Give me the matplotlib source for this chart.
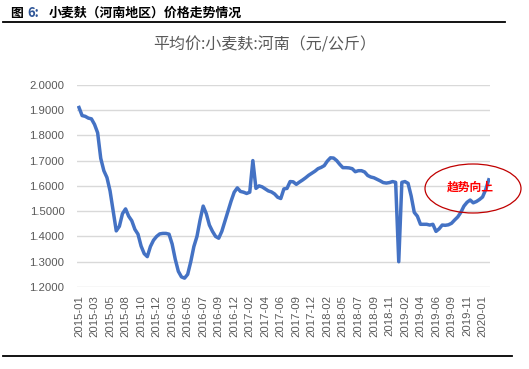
import matplotlib.pyplot as plt
from matplotlib.patches import Ellipse
from matplotlib.lines import Line2D

plt.rcParams['font.family'] = ['Liberation Sans', 'Noto Sans CJK SC', 'DejaVu Sans']

# weekly price (yuan/kg)
prices = [
    1.910, 1.878, 1.875, 1.868, 1.865, 1.843, 1.810, 1.709, 1.660, 1.633,
    1.580, 1.500, 1.422, 1.440, 1.490, 1.509, 1.480, 1.462, 1.428, 1.409,
    1.362, 1.332, 1.320, 1.360, 1.385, 1.400, 1.410, 1.412, 1.412, 1.409,
    1.370, 1.310, 1.262, 1.240, 1.235, 1.250, 1.300, 1.360, 1.400, 1.465,
    1.520, 1.490, 1.445, 1.420, 1.400, 1.393, 1.420, 1.460, 1.500, 1.540,
    1.575, 1.592, 1.578, 1.575, 1.570, 1.575, 1.700, 1.590, 1.600, 1.596,
    1.588, 1.580, 1.576, 1.568, 1.555, 1.550, 1.588, 1.590, 1.617, 1.616,
    1.606, 1.615, 1.623, 1.632, 1.642, 1.650, 1.658, 1.668, 1.673, 1.680,
    1.698, 1.711, 1.710, 1.700, 1.685, 1.672, 1.672, 1.671, 1.668, 1.656,
    1.660, 1.660, 1.655, 1.641, 1.635, 1.632, 1.626, 1.620, 1.613, 1.611,
    1.613, 1.617, 1.614, 1.300, 1.614, 1.617, 1.610, 1.560, 1.495, 1.480,
    1.448, 1.448, 1.448, 1.445, 1.448, 1.420, 1.430, 1.445, 1.444, 1.446,
    1.452, 1.465, 1.477, 1.495, 1.520, 1.535, 1.544, 1.533, 1.538, 1.546,
    1.556, 1.585, 1.624,
]

tick_labels = [
    "2015-01", "2015-03", "2015-05", "2015-08", "2015-10", "2015-12",
    "2016-03", "2016-05", "2016-07", "2016-09", "2016-12", "2017-02",
    "2017-04", "2017-06", "2017-09", "2017-12", "2018-02", "2018-05",
    "2018-07", "2018-09", "2018-11", "2019-02", "2019-04", "2019-06",
    "2019-09", "2019-11", "2020-01",
]
yticks = [1.2, 1.3, 1.4, 1.5, 1.6, 1.7, 1.8, 1.9, 2.0]

cjk = ["Noto Sans CJK SC", "DejaVu Sans"]

fig = plt.figure(figsize=(5.29, 3.69), dpi=100)
ax = fig.add_axes([0.1456, 0.2222, 0.7807, 0.5482])

ax.plot(range(len(prices)), prices, color="#4472C4", lw=2.5, solid_joinstyle="round")

ax.set_ylim(1.2, 2.0)
ax.set_xlim(-0.64, 132.4)
ax.set_yticks(yticks)
ax.set_yticklabels([f"{v:.4f}" for v in yticks])
ax.set_xticks(range(0, 5 * len(tick_labels), 5))
ax.set_xticklabels(tick_labels, rotation=90)
ax.tick_params(axis="y", length=0, pad=9, labelsize=8.2, labelcolor="#595959")
ax.tick_params(axis="x", length=0, pad=6, labelsize=8.2, labelcolor="#595959")
ax.grid(axis="y", color="#D9D9D9", lw=1)
ax.set_axisbelow(True)
for s in ax.spines.values():
    s.set_visible(False)

# chart title
fig.text(0.5, 0.878, "平均价:小麦麸:河南（元/公斤）", ha="center", va="center",
         fontsize=11.5, color="#595959", family=cjk)

# figure caption
fig.text(0.019, 0.965, "图", ha="left", va="center", fontsize=9.3,
         fontweight="bold", family=cjk)
fig.text(0.051, 0.965, "6:", ha="left", va="center", fontsize=9.3,
         fontweight="bold", color="#2E5597", family=cjk)
fig.text(0.0926, 0.965, "小麦麸（河南地区）价格走势情况", ha="left", va="center",
         fontsize=9.3, fontweight="bold", family=cjk)

fig.add_artist(Line2D([0.006, 0.955], [0.94, 0.94], color="black", lw=1.3,
                      transform=fig.transFigure))
fig.add_artist(Line2D([0.006, 0.968], [0.035, 0.035], color="black", lw=1.3,
                      transform=fig.transFigure))

# annotation
fig.add_artist(Ellipse((473 / 529, 1 - 188.5 / 369), 96 / 529, 49 / 369,
                       transform=fig.transFigure, fill=False, edgecolor="#C00000", lw=0.9))
fig.text(470 / 529, 1 - 186.7 / 369, "趋势向上", ha="center", va="center", fontsize=8.5,
         fontweight="bold", color="#FF0000", family=cjk)

fig.savefig("out.png", dpi=100)
